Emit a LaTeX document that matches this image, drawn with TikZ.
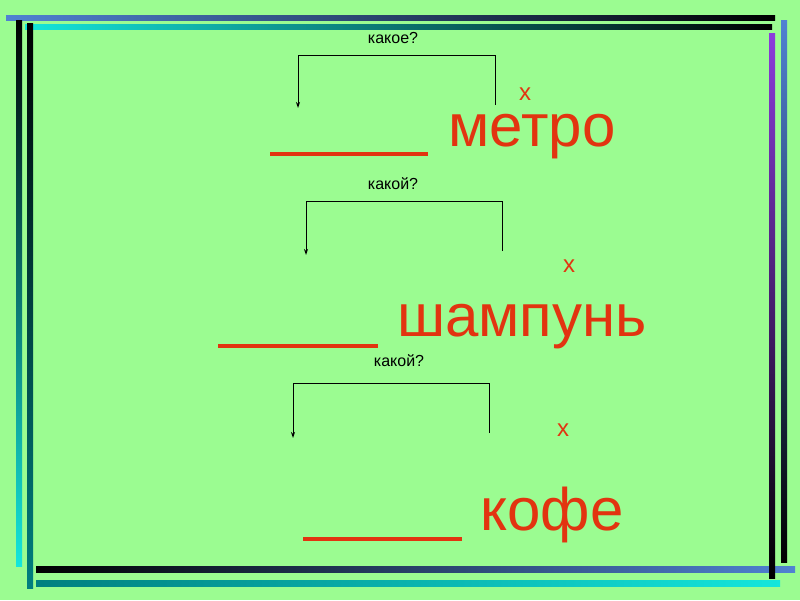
\documentclass[tikz,border=0pt]{standalone}
\usepackage{fontspec}
\setmainfont{Liberation Sans}
\definecolor{bggreen}{RGB}{155,252,145}
\definecolor{wordred}{RGB}{226,52,16}
\definecolor{lineblue}{RGB}{80,130,210}
\definecolor{linecyan}{RGB}{20,230,220}
\definecolor{linepurple}{RGB}{140,60,220}
\tikzset{
  question/.style={font=\fontsize{16}{18}\selectfont},
  cross/.style={text=wordred,inner sep=1pt,font=\fontsize{24}{26}\selectfont},
  word/.style={text=wordred,anchor=base,inner sep=1pt,text height=0.55em,text depth=0.2em,font=\fontsize{60}{66}\selectfont},
  blank/.style={draw=wordred,line width=3.5pt},
  bracket/.style={draw,line width=1pt,-{Stealth[length=6pt,width=4pt]}},
}
\usetikzlibrary{arrows.meta}
\begin{document}
\begin{tikzpicture}[x=1pt,y=-1pt]
 \fill[bggreen] (0,0) rectangle (800,600);
 \useasboundingbox (0,0) rectangle (800,600);
 % frame
 \shade[left color=lineblue,right color=black] (6,15) rectangle (775,20);
 \shade[left color=linecyan,right color=black] (25,24) rectangle (772,29);
 \shade[top color=black,bottom color=linecyan] (16,20) rectangle (22,566);
 \shade[top color=black,bottom color=teal] (27,23) rectangle (33,588);
 \shade[left color=black,right color=lineblue] (36,566) rectangle (795,572);
 \shade[left color=teal,right color=linecyan] (36,580) rectangle (780,586);
 \shade[top color=linepurple,bottom color=black] (769,33) rectangle (775,578);
 \shade[top color=lineblue,bottom color=black] (781,20) rectangle (787,562);

 % first row
 \node[question] (q1) at (393,38) {какое?};
 \coordinate (a1) at (298,108);
 \coordinate (b1) at (495,105);
 \draw[bracket] (b1) |- (298,55) -- (a1);
 \node[cross] (x1) at (525,94) {x};
 \coordinate (l1) at (270,154);
 \coordinate (r1) at (428,154);
 \draw[blank] (l1) -- (r1);
 \node[word] (w1) at (532,146) {метро};

 % second row
 \node[question] (q2) at (393,184) {какой?};
 \coordinate (a2) at (306,255);
 \coordinate (b2) at (502,251);
 \draw[bracket] (b2) |- (306,201) -- (a2);
 \node[cross] (x2) at (569,266) {x};
 \coordinate (l2) at (218,346);
 \coordinate (r2) at (378,346);
 \draw[blank] (l2) -- (r2);
 \node[word] (w2) at (522,336) {шампунь};

 % third row
 \node[question] (q3) at (399,361) {какой?};
 \coordinate (a3) at (293,438);
 \coordinate (b3) at (489,433);
 \draw[bracket] (b3) |- (293,383) -- (a3);
 \node[cross] (x3) at (563,430) {x};
 \coordinate (l3) at (303,539);
 \coordinate (r3) at (462,539);
 \draw[blank] (l3) -- (r3);
 \node[word] (w3) at (552,530) {кофе};
\end{tikzpicture}
\end{document}
